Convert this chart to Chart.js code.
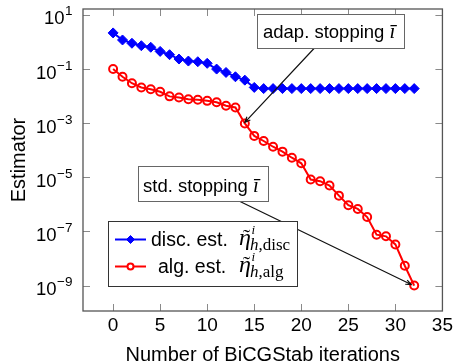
<!DOCTYPE html>
<html>
<head>
<meta charset="utf-8">
<script src="https://cdn.jsdelivr.net/npm/chart.js@4.4.1/dist/chart.umd.min.js"></script>
<style>
  html, body { margin: 0; padding: 0; background: #fff; }
  #wrap { width: 456px; height: 363px; }
</style>
</head>
<body>
<div id="wrap"><canvas id="chart" width="456" height="363"></canvas></div>
<script>
// ----- Data
const iterations = [0, 1, 2, 3, 4, 5, 6, 7, 8, 9, 10, 11, 12, 13, 14, 15, 16,
    17, 18, 19, 20, 21, 22, 23, 24, 25, 26, 27, 28, 29, 30, 31, 32];
const discEst = [2.17, 1.19, 0.9, 0.73, 0.64, 0.45, 0.34, 0.235, 0.198, 0.187, 0.163,
    0.1, 0.075, 0.052, 0.039, 0.021, 0.019, 0.019, 0.019, 0.019, 0.019, 0.019, 0.019,
    0.019, 0.019, 0.019, 0.019, 0.019, 0.019, 0.019, 0.019, 0.019, 0.019];
const algEst = [0.1, 0.052, 0.030, 0.021, 0.018, 0.0145, 0.0098, 0.0089, 0.0077, 0.0073,
    0.0067, 0.0059, 0.0044, 0.0038, 0.00098, 3.4e-4, 2.2e-4, 1.35e-4, 8.9e-5, 5.3e-5,
    3.3e-5, 8.3e-6, 7.2e-6, 5.0e-6, 2.1e-6, 9.3e-7, 6.8e-7, 3.4e-7, 7.6e-8, 6.6e-8,
    3.3e-8, 5.4e-9, 1.0e-9];
const xTicks = [0, 5, 10, 15, 20, 25, 30, 35];
const yTickExps = [1, -1, -3, -5, -7, -9];
const adapStop = 14;   // iteration of the adaptive stopping
const stdStop = 32;    // iteration of the standard stopping

const SANS = '"Liberation Sans", Arial, sans-serif';
const SERIF = '"Liberation Serif", "Times New Roman", serif';

function pts(vals) {
    return iterations.map((it, i) => ({ x: it, y: vals[i] }));
}

function arrow(ctx, x1, y1, x2, y2) {
    ctx.beginPath();
    ctx.moveTo(x1, y1); ctx.lineTo(x2, y2);
    const a = Math.atan2(y2 - y1, x2 - x1), L = 6;
    ctx.moveTo(x2 - L * Math.cos(a - 0.4), y2 - L * Math.sin(a - 0.4));
    ctx.lineTo(x2, y2);
    ctx.lineTo(x2 - L * Math.cos(a + 0.4), y2 - L * Math.sin(a + 0.4));
    ctx.stroke();
}

// eta tilde with super i and subscript h,xxx
function eta(ctx, x, base, sub) {
    ctx.textAlign = 'left';
    ctx.textBaseline = 'alphabetic';
    ctx.font = 'italic 24px ' + SERIF;
    ctx.fillText('η', x, base);
    const w = ctx.measureText('η').width;
    ctx.font = '22px ' + SERIF;
    ctx.textAlign = 'center';
    ctx.fillText('˜', x + w / 2 + 1.5, base - 1);
    ctx.textAlign = 'left';
    ctx.font = 'italic 13px ' + SERIF;
    ctx.fillText('i', x + w + 0.5, base - 11);
    ctx.font = 'italic 17px ' + SERIF;
    ctx.fillText('h', x + w - 1, base + 5);
    const hw = ctx.measureText('h').width;
    ctx.font = '17px ' + SERIF;
    ctx.fillText(',' + sub, x + w - 1 + hw, base + 5);
}

// label text followed by an italic i-bar
function stopLabel(ctx, text, x, base) {
    ctx.textAlign = 'left';
    ctx.textBaseline = 'alphabetic';
    ctx.font = '18.5px ' + SANS;
    ctx.fillText(text, x, base);
    const w = ctx.measureText(text).width;
    ctx.font = 'italic 21px ' + SERIF;
    ctx.fillText('ī', x + w + 5, base);
}

const framePlugin = {
    id: 'frame',
    beforeDatasetsDraw(chart) {
        const { ctx, chartArea: a, scales: { x, y } } = chart;
        ctx.save();
        ctx.strokeStyle = '#8a8a8a';
        ctx.lineWidth = 1;
        const T = 7;
        ctx.beginPath();
        xTicks.forEach(v => {
            const px = Math.round(x.getPixelForValue(v)) + 0.5;
            ctx.moveTo(px, a.bottom); ctx.lineTo(px, a.bottom - T);
            ctx.moveTo(px, a.top); ctx.lineTo(px, a.top + T);
        });
        yTickExps.forEach(e => {
            const py = Math.round(y.getPixelForValue(Math.pow(10, e))) + 0.5;
            ctx.moveTo(a.left, py); ctx.lineTo(a.left + T, py);
            ctx.moveTo(a.right, py); ctx.lineTo(a.right - T, py);
        });
        ctx.stroke();
        ctx.strokeStyle = '#555';
        ctx.lineWidth = 1.3;
        ctx.strokeRect(a.left, a.top, a.right - a.left, a.bottom - a.top);

        // y tick labels 10^e
        ctx.fillStyle = '#000';
        ctx.textBaseline = 'alphabetic';
        ctx.textAlign = 'right';
        yTickExps.forEach(e => {
            const py = y.getPixelForValue(Math.pow(10, e));
            const sup = e < 0 ? '−' + (-e) : String(e);
            ctx.font = '13.5px ' + SANS;
            const sw = ctx.measureText(sup).width;
            const right = 72.5;
            ctx.fillText(sup, right, py + 0.5);
            ctx.font = '18.5px ' + SANS;
            ctx.fillText('10', right - sw - 0.5, py + 9.5);
        });
        ctx.restore();
    },
    afterDatasetsDraw(chart) {
        const { ctx, scales: { x, y } } = chart;
        ctx.save();
        ctx.fillStyle = '#000';
        ctx.strokeStyle = '#111';
        ctx.lineWidth = 1.2;

        // adaptive stopping annotation
        const ax = x.getPixelForValue(adapStop), ay = y.getPixelForValue(algEst[adapStop]);
        arrow(ctx, 314, 48.5, ax, ay - 1);
        ctx.fillStyle = '#fff';
        ctx.fillRect(257, 14, 147, 34);
        ctx.strokeStyle = '#666';
        ctx.lineWidth = 1;
        ctx.strokeRect(257.5, 14.5, 147, 34);
        ctx.fillStyle = '#000';
        stopLabel(ctx, 'adap. stopping', 263, 37.5);

        // standard stopping annotation
        const sx = x.getPixelForValue(stdStop), sy = y.getPixelForValue(algEst[stdStop]);
        ctx.strokeStyle = '#111';
        ctx.lineWidth = 1.2;
        arrow(ctx, 239, 201, sx - 3, sy - 1);
        ctx.fillStyle = '#fff';
        ctx.fillRect(138, 166, 130, 35);
        ctx.strokeStyle = '#666';
        ctx.lineWidth = 1;
        ctx.strokeRect(138.5, 166.5, 130, 35);
        ctx.fillStyle = '#000';
        stopLabel(ctx, 'std. stopping', 143, 191.5);

        // legend
        ctx.fillStyle = '#fff';
        ctx.fillRect(108, 221, 189, 65);
        ctx.strokeStyle = '#333';
        ctx.strokeRect(108.5, 221.5, 189, 65);
        const rows = [
            { ds: chart.data.datasets[0], text: 'disc. est.', tx: 151, base: 246, sub: 'disc' },
            { ds: chart.data.datasets[1], text: 'alg. est.', tx: 158, base: 273, sub: 'alg' }
        ];
        rows.forEach(r => {
            const ly = r.base - 6.5;
            ctx.strokeStyle = r.ds.borderColor;
            ctx.lineWidth = 2;
            ctx.beginPath(); ctx.moveTo(115, ly); ctx.lineTo(146, ly); ctx.stroke();
            ctx.fillStyle = r.ds.pointStyle === 'rectRot' ? r.ds.borderColor : '#fff';
            ctx.lineWidth = r.ds.pointBorderWidth;
            Chart.helpers.drawPoint(ctx, {
                pointStyle: r.ds.pointStyle, radius: r.ds.pointRadius - 1, borderWidth: r.ds.pointBorderWidth
            }, 130.5, ly);
            ctx.fillStyle = '#000';
            ctx.font = '19.5px ' + SANS;
            ctx.textAlign = 'left';
            ctx.fillText(r.text, r.tx, r.base);
            eta(ctx, 239, r.base - 1, r.sub);
        });
        ctx.restore();
    }
};

const chart = new Chart(document.getElementById('chart'), {
    type: 'line',
    data: {
        datasets: [
            {
                label: 'disc. est.',
                data: pts(discEst),
                borderColor: '#0000ff',
                backgroundColor: '#0000ff',
                borderWidth: 2,
                pointStyle: 'rectRot',
                pointRadius: 5,
                pointBorderWidth: 1,
                tension: 0
            },
            {
                label: 'alg. est.',
                data: pts(algEst),
                borderColor: '#ff0000',
                backgroundColor: 'rgba(255,255,255,0)',
                borderWidth: 2,
                pointStyle: 'circle',
                pointRadius: 4,
                pointBorderWidth: 2,
                tension: 0
            }
        ]
    },
    options: {
        responsive: false,
        animation: false,
        layout: { padding: { top: 9, right: 11, left: 0, bottom: 0 } },
        plugins: { legend: { display: false }, tooltip: { enabled: false } },
        scales: {
            x: {
                type: 'linear',
                min: -3.2, max: 35,
                afterBuildTicks: s => { s.ticks = xTicks.map(v => ({ value: v })); },
                afterFit: s => { s.height = 52; },
                grid: { display: false, drawTicks: false },
                border: { display: false },
                ticks: { color: '#000', padding: 3, font: { family: SANS, size: 19 } },
                title: {
                    display: true, text: 'Number of BiCGStab iterations', color: '#000',
                    font: { family: SANS, size: 20, lineHeight: 1 }, padding: { top: 0, bottom: -2 }
                }
            },
            y: {
                type: 'logarithmic',
                min: Math.pow(10, -9.94), max: Math.pow(10, 1.22),
                afterBuildTicks: s => { s.ticks = yTickExps.map(e => ({ value: Math.pow(10, e) })); },
                afterFit: s => { s.width = 83; },
                grid: { display: false, drawTicks: false },
                border: { display: false },
                ticks: { display: false },
                title: {
                    display: true, text: 'Estimator', color: '#000',
                    font: { family: SANS, size: 20, lineHeight: 1 }, padding: { top: 9, bottom: 0 }
                }
            }
        }
    },
    plugins: [framePlugin]
});
</script>
</body>
</html>
